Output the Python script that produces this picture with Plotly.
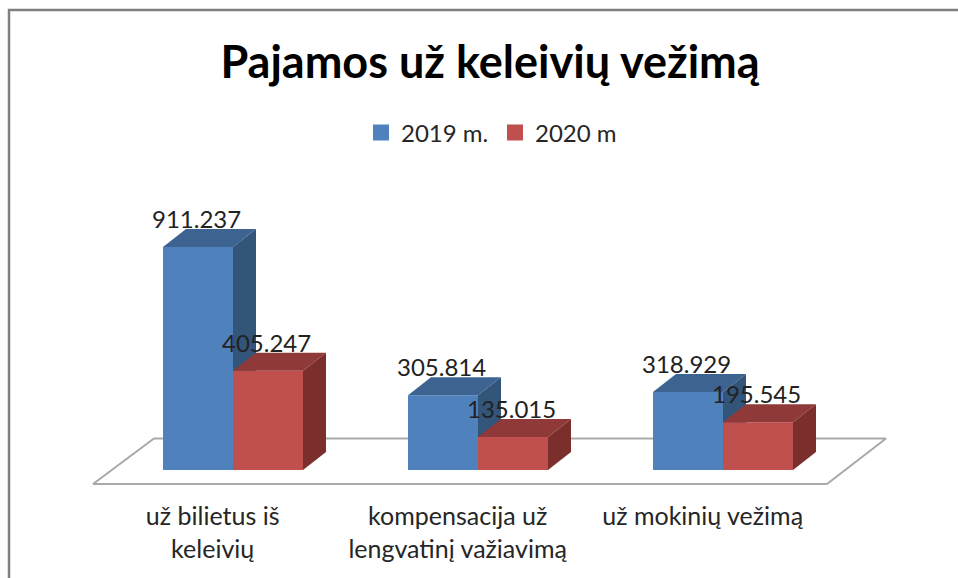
import numpy as np
import plotly.graph_objects as go

# ---------- data ----------
categories = ["už bilietus iš keleivių", "kompensacija už lengvatinį važiavimą", "už mokinių vežimą"]
tick_labels = ["už bilietus iš<br>keleivių", "kompensacija už<br>lengvatinį važiavimą", "už mokinių vežimą"]
series_names = ["2019 m.", "2020 m"]
values_2019 = [911.237, 305.814, 318.929]
values_2020 = [405.247, 135.015, 195.545]
title_text = "Pajamos už keleivių vežimą"

# ---------- styles / geometry ----------
W, H = 958, 578
PX_PER_CAT = 245.0
PX_PER_VAL = 0.2447
X0_PX, Y0_PX = 233.0, 470.0          # pixel of category 0 / value 0
BAR_W = 70 / PX_PER_CAT
DX, DY = 23 / PX_PER_CAT, 18 / PX_PER_VAL
FONT = "Lato"
BLUE = ("#4f81bd", "#3d6491", "#325579")
RED = ("#c0504d", "#8f3a38", "#7b2f2d")
FLOOR = "#a9a9a9"

x_range = [-X0_PX / PX_PER_CAT, (W - X0_PX) / PX_PER_CAT]
y_range = [(Y0_PX - H) / PX_PER_VAL, Y0_PX / PX_PER_VAL]
pos = np.arange(len(categories), dtype=float)


def xd(px):
    return (px - X0_PX) / PX_PER_CAT


def yd(px):
    return (Y0_PX - px) / PX_PER_VAL


fig = go.Figure()

# floor of the 3-D plot
fig.add_trace(go.Scatter(
    x=[xd(93), xd(827), xd(886), xd(154), xd(93)],
    y=[yd(484), yd(484), yd(438.5), yd(438.5), yd(484)],
    mode="lines", line=dict(color=FLOOR, width=2), showlegend=False, hoverinfo="skip",
    xaxis="x", yaxis="y",
))


def add_series(name, vals, offset, colors, xa, ya):
    vals = np.asarray(vals, dtype=float)
    fig.add_trace(go.Bar(
        x=pos, y=vals, width=BAR_W, offset=offset, name=name,
        marker=dict(color=colors[0], line=dict(width=0)), showlegend=False,
        xaxis=xa, yaxis=ya,
    ))
    for p, v in zip(pos, vals):
        l, r = p + offset, p + offset + BAR_W
        # top face
        fig.add_trace(go.Scatter(
            x=[l, r, r + DX, l + DX, l], y=[v, v, v + DY, v + DY, v],
            mode="lines", fill="toself", fillcolor=colors[1], line=dict(width=0),
            showlegend=False, hoverinfo="skip", xaxis=xa, yaxis=ya,
        ))
        # side face
        fig.add_trace(go.Scatter(
            x=[r, r + DX, r + DX, r, r], y=[0, DY, v + DY, v, 0],
            mode="lines", fill="toself", fillcolor=colors[2], line=dict(width=0),
            showlegend=False, hoverinfo="skip", xaxis=xa, yaxis=ya,
        ))
    # legend entry
    fig.add_trace(go.Scatter(
        x=[None], y=[None], name=name, mode="markers",
        marker=dict(symbol="square", size=16, color=colors[0]),
        xaxis=xa, yaxis=ya,
    ))


add_series(series_names[0], values_2019, -BAR_W, BLUE, "x2", "y2")
add_series(series_names[1], values_2020, 0.0, RED, "x3", "y3")

annotations = []
for vals, off in ((values_2019, -BAR_W / 2), (values_2020, BAR_W / 2)):
    for p, v in zip(pos, vals):
        annotations.append(dict(
            x=p + off, y=v, xref="x", yref="y", text=f"{v:.3f}", showarrow=False,
            xanchor="center", yanchor="middle", xshift=-2, yshift=28.5,
            font=dict(family=FONT, size=24, color="#222222"),
        ))

axis_off = dict(visible=False, fixedrange=True)
fig.update_layout(
    width=W, height=H, autosize=False,
    margin=dict(l=0, r=0, t=0, b=0, pad=0),
    paper_bgcolor="white", plot_bgcolor="white",
    barmode="overlay",
    title=dict(text=title_text, x=490 / W, xanchor="center", y=1 - 62 / H, yanchor="middle",
               font=dict(family=FONT, size=45, color="black", weight="bold")),
    legend=dict(orientation="h", x=361 / W, xanchor="left", y=1 - 133 / H, yanchor="middle",
                entrywidth=89, bgcolor="rgba(0,0,0,0)",
                font=dict(family=FONT, size=24, color="#262626")),
    xaxis=dict(domain=[0, 1], range=x_range, anchor="free", position=1 - 484 / H, side="bottom",
               tickmode="array", tickvals=list(pos - 0.083), ticktext=tick_labels,
               showgrid=False, zeroline=False, showline=False,
               ticks="outside", ticklen=10, tickcolor="rgba(0,0,0,0)",
               tickfont=dict(family=FONT, size=25, color="#262626"), fixedrange=True),
    yaxis=dict(domain=[0, 1], range=y_range, **axis_off),
    xaxis2=dict(overlaying="x", range=x_range, **axis_off),
    yaxis2=dict(overlaying="y", range=y_range, **axis_off),
    xaxis3=dict(overlaying="x", range=x_range, **axis_off),
    yaxis3=dict(overlaying="y", range=y_range, **axis_off),
    annotations=annotations,
    shapes=[dict(type="path", xref="paper", yref="paper",
                 path=f"M {9/W} 0 L {9/W} {1-10/H} L 1 {1-10/H}",
                 line=dict(color="#808080", width=2.5))],
)

fig.write_html("out.html", config={"displayModeBar": False},
               post_script="document.body.style.margin='0';")
